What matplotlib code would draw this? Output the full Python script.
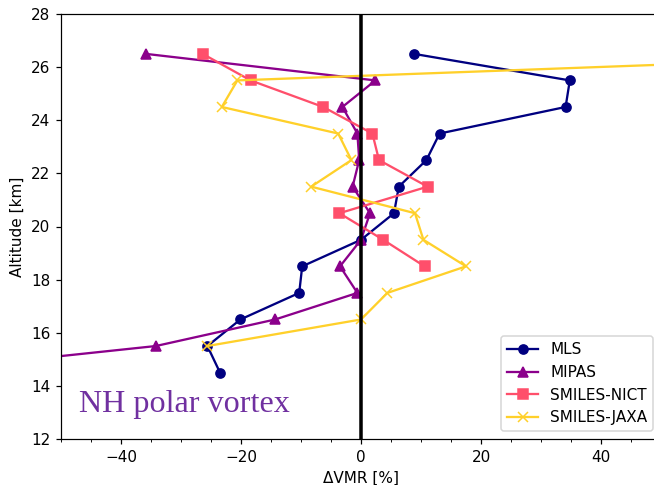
import matplotlib
matplotlib.use("Agg")
import matplotlib.pyplot as plt

# altitude levels [km]
alt_mls = [26.5, 25.5, 24.5, 23.5, 22.5, 21.5, 20.5, 19.5, 18.5, 17.5, 16.5, 15.5, 14.5]
alt_mipas = [26.5, 25.5, 24.5, 23.5, 22.5, 21.5, 20.5, 19.5, 18.5, 17.5, 16.5, 15.5, 14.5]
alt_nict = [26.5, 25.5, 24.5, 23.5, 22.5, 21.5, 20.5, 19.5, 18.5]
alt_jaxa = [26.5, 25.5, 24.5, 23.5, 22.5, 21.5, 20.5, 19.5, 18.5, 17.5, 16.5, 15.5]

# relative differences [%]
dvmr_mls = [8.8, 34.8, 34.1, 13.1, 10.9, 6.3, 5.5, 0.0, -9.8, -10.3, -20.1, -25.6, -23.5]
dvmr_mipas = [-35.9, 2.4, -3.1, -0.6, -0.3, -1.4, 1.5, 0.0, -3.5, -0.6, -14.3, -34.2, -76.0]
dvmr_nict = [-26.4, -18.4, -6.3, 1.9, 3.0, 11.1, -3.6, 3.7, 10.6]
dvmr_jaxa = [99.0, -20.6, -23.2, -3.8, -1.6, -8.3, 9.0, 10.4, 17.5, 4.4, 0.0, -25.6]

DPI = 110
fig = plt.figure(figsize=(654 / DPI, 485 / DPI), dpi=DPI)
# axes runs a little past the right edge of the figure, as in the original
ax = fig.add_axes([61 / 654, 46 / 485, 600 / 654, 425 / 485])

ax.plot(dvmr_mls, alt_mls, color="navy", marker="o", label="MLS")
ax.plot(dvmr_mipas, alt_mipas, color="darkmagenta", marker="^", label="MIPAS")
ax.plot(dvmr_nict, alt_nict, color="#ff4f6b", marker="s", label="SMILES-NICT")
ax.plot(dvmr_jaxa, alt_jaxa, color="#ffd02a", marker="x", label="SMILES-JAXA")

# zero line
ax.axvline(0, color="black", linewidth=2.3)

ax.set_xlim(-50, 50)
ax.set_ylim(12, 28)
ax.set_xticks([-40, -20, 0, 20, 40])
ax.set_xticks(range(-50, 51, 5), minor=True)
ax.set_xlabel("ΔVMR [%]")
ax.set_ylabel("Altitude [km]")

ax.text(-47, 13.0, "NH polar vortex", family="Liberation Serif",
        fontsize=21, color="#7030a0")

ax.legend(loc="lower right")

fig.savefig("out.png", dpi=DPI)
